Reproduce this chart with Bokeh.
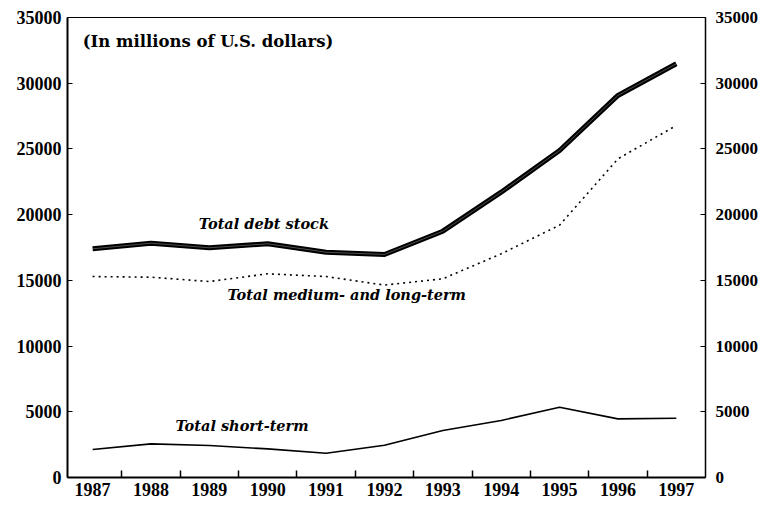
from bokeh.plotting import figure
from bokeh.models import LinearAxis, FixedTicker, Range1d, Label
from bokeh.embed import file_html
from bokeh.resources import INLINE

years = [1987, 1988, 1989, 1990, 1991, 1992, 1993, 1994, 1995, 1996, 1997]
total_debt = [17400, 17830, 17480, 17780, 17140, 16970, 18740, 21710, 24880, 29070, 31480]
medium_long = [15290, 15240, 14910, 15500, 15290, 14640, 15120, 17020, 19200, 24250, 26780]
short_term = [2130, 2560, 2430, 2180, 1850, 2450, 3580, 4340, 5350, 4460, 4510]
y_ticks = [0, 5000, 10000, 15000, 20000, 25000, 30000, 35000]
x_minor = [1987.5, 1988.5, 1989.5, 1990.5, 1991.5, 1992.5, 1993.5, 1994.5, 1995.5, 1996.5]

SERIF = "Liberation Serif"
WIDE = "DejaVu Serif"

p = figure(width=757, height=503, output_backend="svg", toolbar_location=None,
           x_range=Range1d(1986.57, 1997.5), y_range=Range1d(0, 35000),
           min_border_left=67, min_border_right=52, min_border_top=17, min_border_bottom=26)
p.frame_width = 638
p.frame_height = 460
p.xgrid.visible = False
p.ygrid.visible = False
p.outline_line_color = "black"
p.outline_line_width = 1
p.background_fill_color = "white"
p.border_fill_color = "white"

# x axis
xa = p.xaxis[0]
xa.ticker = FixedTicker(ticks=years, minor_ticks=x_minor)
xa.major_tick_in = 0
xa.major_tick_out = 0
xa.minor_tick_in = 7
xa.minor_tick_out = 0
xa.minor_tick_line_width = 1.5
xa.axis_line_width = 2
xa.major_label_text_font = SERIF
xa.major_label_text_font_style = "bold"
xa.major_label_text_font_size = "18px"
xa.major_label_text_color = "black"
xa.major_label_standoff = 5

# left y axis
ya = p.yaxis[0]
ya.ticker = FixedTicker(ticks=y_ticks)
ya.major_tick_in = 5
ya.major_tick_out = 0
ya.minor_tick_line_color = None
ya.axis_line_width = 2
ya.major_label_text_font = SERIF
ya.major_label_text_font_style = "bold"
ya.major_label_text_font_size = "18px"
ya.major_label_text_color = "black"
ya.major_label_standoff = 6

# right y axis
ra = LinearAxis(ticker=FixedTicker(ticks=y_ticks))
ra.major_tick_in = 5
ra.major_tick_out = 0
ra.minor_tick_line_color = None
ra.axis_line_width = 1.5
ra.major_label_text_font = SERIF
ra.major_label_text_font_style = "bold"
ra.major_label_text_font_size = "17px"
ra.major_label_text_color = "black"
ra.major_label_standoff = 10
p.add_layout(ra, "right")

# series
p.line(years, total_debt, line_color="black", line_width=5, line_join="round")
p.line(years, total_debt, line_color="white", line_width=1, line_alpha=0.3, line_join="round")
p.line(years, medium_long, line_color="black", line_width=1.6, line_dash="2 4")
p.line(years, short_term, line_color="black", line_width=1.6)

# texts
p.add_layout(Label(x=1986.83, y=33200, text="(In millions of U.S. dollars)",
                   text_font=WIDE, text_font_style="bold", text_font_size="16.5px",
                   text_color="black", text_baseline="alphabetic"))
p.add_layout(Label(x=1988.82, y=19350, text="Total debt stock",
                   text_font=WIDE, text_font_style="bold italic", text_font_size="14.5px",
                   text_color="black", text_baseline="alphabetic"))
p.add_layout(Label(x=1989.31, y=13950, text="Total medium- and long-term",
                   text_font=WIDE, text_font_style="bold italic", text_font_size="14.5px",
                   text_color="black", text_baseline="alphabetic"))
p.add_layout(Label(x=1988.42, y=3980, text="Total short-term",
                   text_font=WIDE, text_font_style="bold italic", text_font_size="14.5px",
                   text_color="black", text_baseline="alphabetic"))

open("out.html", "w").write(file_html(p, INLINE))
